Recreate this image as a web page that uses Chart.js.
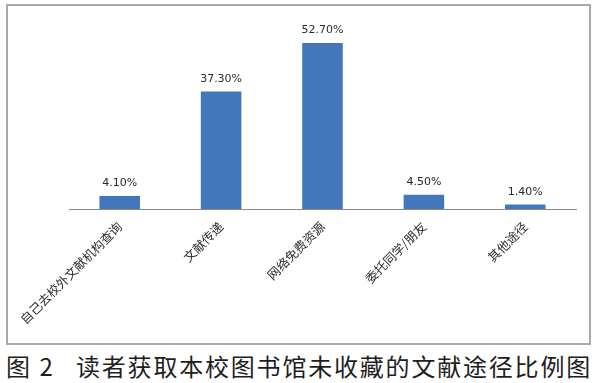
<!DOCTYPE html>
<html>
<head>
<meta charset="utf-8">
<script src="https://cdn.jsdelivr.net/npm/chart.js@4/dist/chart.umd.min.js"></script>
<style>
  html, body { margin: 0; padding: 0; background: #fff; }
  body { width: 600px; height: 383px; position: relative; overflow: hidden; }
  #frame { position: absolute; left: 6px; top: 4px; width: 581px; height: 337px; border: 2px solid #a9a9a9; }
  #wrap { position: absolute; left: 0; top: 0; width: 600px; height: 345px; }
  #cap { position: absolute; left: 6px; top: 354px; height: 24px; font-family: "Noto Sans CJK SC"; font-size: 24px; line-height: 24px; color: #1e1e1e; white-space: nowrap; word-spacing: 4px; }
  #cap .b { position: absolute; left: 70px; top: 0; letter-spacing: 1.8px; word-spacing: 0; }
</style>
</head>
<body>
<div id="frame"></div>
<div id="wrap"><canvas id="c"></canvas></div>
<div id="cap"><span>图 2</span><span class="b">读者获取本校图书馆未收藏的文献途径比例图</span></div>
<script>
const categories = ["自己去校外文献机构查询", "文献传递", "网络免费资源", "委托同学/朋友", "其他途径"];
const percentValues = [4.1, 37.3, 52.7, 4.5, 1.4];
const valueLabels = ["4.10%", "37.30%", "52.70%", "4.50%", "1.40%"];

const valueLabelPlugin = {
  id: 'valueLabels',
  afterDatasetsDraw(chart) {
    const ctx = chart.ctx;
    const meta = chart.getDatasetMeta(0);
    ctx.save();
    ctx.font = '11px "DejaVu Sans"';
    ctx.fillStyle = '#2a2a2a';
    ctx.textAlign = 'center';
    ctx.textBaseline = 'bottom';
    meta.data.forEach((bar, i) => {
      ctx.fillText(valueLabels[i], bar.x, bar.y - 7);
    });
    ctx.restore();
  }
};

new Chart(document.getElementById('c'), {
  type: 'bar',
  data: {
    labels: categories,
    datasets: [{
      data: percentValues,
      backgroundColor: '#4377bb',
      borderWidth: 0,
      categoryPercentage: 0.8,
      barPercentage: 0.5
    }]
  },
  options: {
    responsive: true,
    maintainAspectRatio: false,
    animation: false,
    layout: { padding: { left: 69, right: 24, top: 20, bottom: 0 } },
    plugins: { legend: { display: false }, tooltip: { enabled: false } },
    scales: {
      x: {
        grid: { display: false, drawTicks: false },
        border: { display: true, color: '#8a8a8a', width: 1 },
        ticks: {
          autoSkip: false,
          minRotation: 45,
          maxRotation: 45,
          padding: 10,
          color: '#2e2e2e',
          font: { family: '"Noto Sans CJK SC"', size: 12.5 }
        },
        afterFit(scale) { scale.height = 136; }
      },
      y: {
        display: false,
        min: 0,
        max: 60
      }
    }
  },
  plugins: [valueLabelPlugin]
});
</script>
</body>
</html>
